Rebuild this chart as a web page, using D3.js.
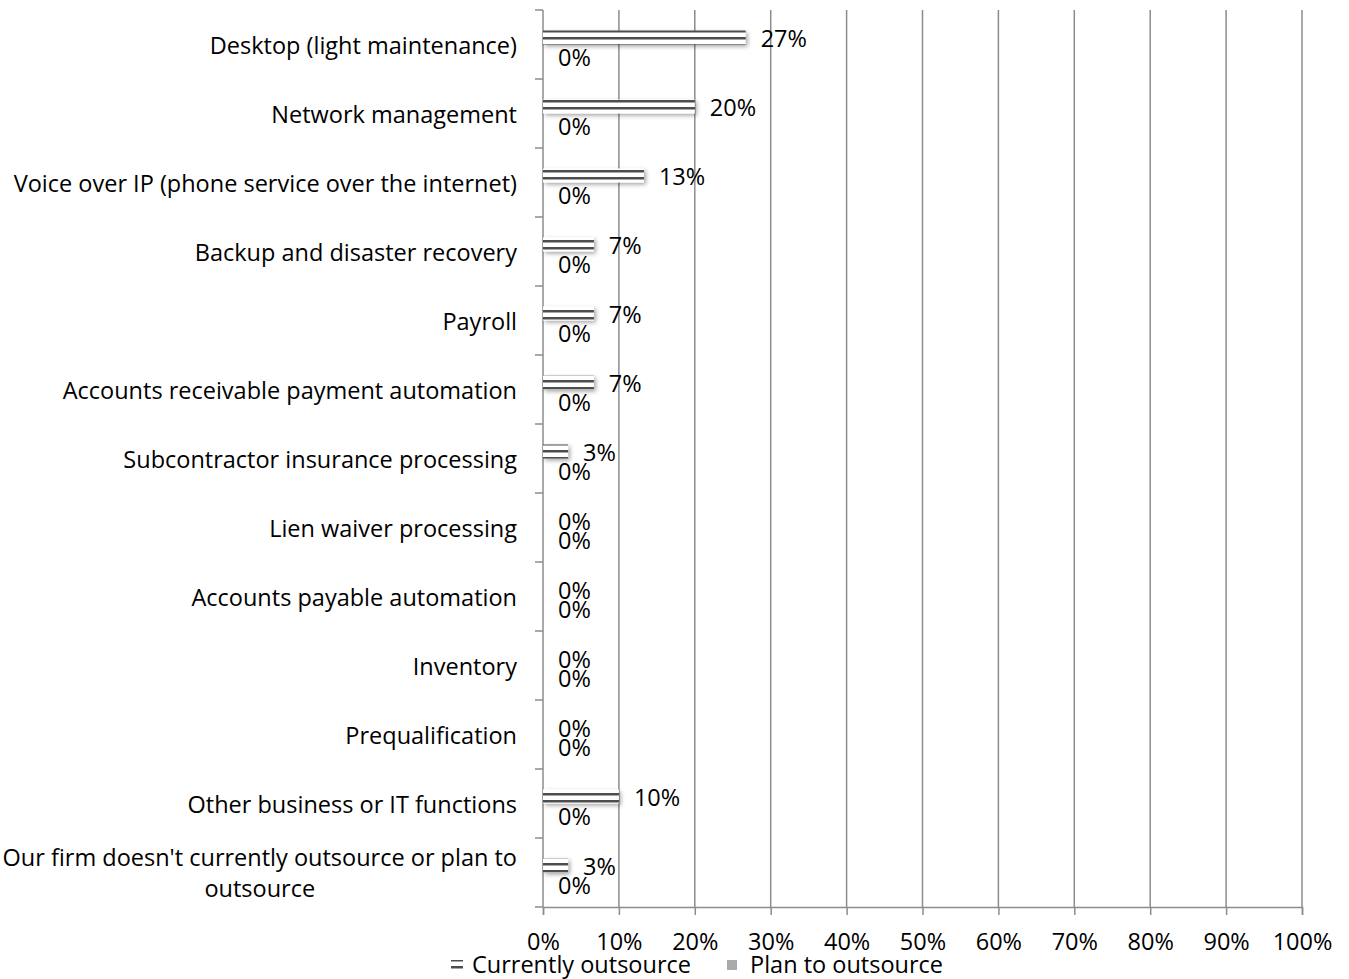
<!DOCTYPE html>
<html>
<head>
<meta charset="utf-8">
<script src="https://cdn.jsdelivr.net/npm/d3@7"></script>
<style>
  body { margin: 0; background: #fff; }
  text { font-family: "Open Sans", sans-serif; fill: #000; }
</style>
</head>
<body>
<svg id="chart" width="1349" height="979"></svg>
<script>
var categories = [
    "Desktop (light maintenance)",
    "Network management",
    "Voice over IP (phone service over the internet)",
    "Backup and disaster recovery",
    "Payroll",
    "Accounts receivable payment automation",
    "Subcontractor insurance processing",
    "Lien waiver processing",
    "Accounts payable automation",
    "Inventory",
    "Prequalification",
    "Other business or IT functions",
    "Our firm doesn't currently outsource or plan to outsource"
];
var currently = [26.7, 20, 13.3, 6.7, 6.7, 6.7, 3.3, 0, 0, 0, 0, 10, 3.3];
var planned = [0, 0, 0, 0, 0, 0, 0, 0, 0, 0, 0, 0, 0];
var xTicks = [0, 10, 20, 30, 40, 50, 60, 70, 80, 90, 100];
var seriesNames = ["Currently outsource", "Plan to outsource"];

var FS = 23.5;
var svg = d3.select("#chart"),
    MARGINS = { top: 10, right: 47, bottom: 72, left: 543 },
    WIDTH = 1349,
    HEIGHT = 979;

var xScale = d3.scaleLinear().domain([0, 100]).range([MARGINS.left, WIDTH - MARGINS.right]);
var yScale = d3.scaleBand().domain(categories).range([MARGINS.top, HEIGHT - MARGINS.bottom]);
var barH = 14;

var defs = svg.append("defs");
var pat = defs.append("pattern")
    .attr("id", "lines")
    .attr("patternUnits", "userSpaceOnUse")
    .attr("width", 8).attr("height", 7);
pat.append("rect").attr("width", 8).attr("height", 7).attr("fill", "#fff");
pat.append("rect").attr("y", 2).attr("width", 8).attr("height", 2.5).attr("fill", "#4d4d4d");

var f = defs.append("filter").attr("id", "shadow")
    .attr("x", "-20%").attr("y", "-50%").attr("width", "150%").attr("height", "250%");
f.append("feDropShadow").attr("dx", 2).attr("dy", 2).attr("stdDeviation", 2)
    .attr("flood-color", "#000").attr("flood-opacity", 0.35);

// grid
svg.append("g").selectAll("line").data(xTicks.slice(1)).enter().append("line")
    .attr("x1", function (d) { return xScale(d); })
    .attr("x2", function (d) { return xScale(d); })
    .attr("y1", MARGINS.top).attr("y2", HEIGHT - MARGINS.bottom)
    .attr("stroke", "#8c8c8c").attr("stroke-width", 1.5);

// axes
var xAxis = d3.axisBottom(xScale).tickValues(xTicks)
    .tickFormat(function (d) { return d + "%"; }).tickSize(8).tickPadding(18);
var gx = svg.append("g")
    .attr("transform", "translate(0," + (HEIGHT - MARGINS.bottom) + ")")
    .call(xAxis);
gx.select(".domain").attr("stroke", "#8c8c8c").attr("stroke-width", 1.5);
gx.selectAll(".tick line").attr("stroke", "#8c8c8c").attr("stroke-width", 1.5);
gx.selectAll("text").style("font-size", FS + "px").style("font-family", "'Open Sans', sans-serif");

var yEdges = categories.map(function (c) { return yScale(c); }).concat([HEIGHT - MARGINS.bottom]);
var gy = svg.append("g");
gy.append("line").attr("x1", MARGINS.left).attr("x2", MARGINS.left)
    .attr("y1", MARGINS.top).attr("y2", HEIGHT - MARGINS.bottom)
    .attr("stroke", "#8c8c8c").attr("stroke-width", 1.5);
gy.selectAll(".yt").data(yEdges).enter().append("line")
    .attr("x1", MARGINS.left - 8).attr("x2", MARGINS.left)
    .attr("y1", function (d) { return d; }).attr("y2", function (d) { return d; })
    .attr("stroke", "#8c8c8c").attr("stroke-width", 1.5);

// category labels
categories.forEach(function (c, i) {
    var cy = yScale(c) + yScale.bandwidth() / 2;
    var lines = c.length > 50 ? ["Our firm doesn't currently outsource or plan to", "outsource"] : [c];
    var t = svg.append("text")
        .attr("font-size", FS)
        .attr("text-anchor", "end")
        .attr("dominant-baseline", "central");
    if (lines.length === 1) {
        t.attr("x", 517).attr("y", cy).text(c);
    } else {
        t.attr("x", 517).attr("y", cy - 16).text(lines[0]);
        var w = t.node().getComputedTextLength();
        svg.append("text").attr("font-size", FS)
            .attr("text-anchor", "middle").attr("dominant-baseline", "central")
            .attr("x", 517 - w / 2).attr("y", cy + 15).text(lines[1]);
    }
});

// bars
var groups = svg.append("g").selectAll("g").data(categories).enter().append("g");
groups.append("rect")
    .attr("x", xScale(0))
    .attr("y", function (d) { return yScale(d) + yScale.bandwidth() / 2 - barH; })
    .attr("width", function (d, i) { return xScale(currently[i]) - xScale(0); })
    .attr("height", barH)
    .attr("fill", "url(#lines)")
    .attr("filter", "url(#shadow)")
    .style("display", function (d, i) { return currently[i] > 0 ? null : "none"; });
groups.append("rect")
    .attr("x", xScale(0))
    .attr("y", function (d) { return yScale(d) + yScale.bandwidth() / 2; })
    .attr("width", function (d, i) { return xScale(planned[i]) - xScale(0); })
    .attr("height", barH)
    .attr("fill", "#aaa");

// value labels
groups.append("text")
    .attr("font-size", FS)
    .attr("dominant-baseline", "central")
    .attr("x", function (d, i) { return xScale(currently[i]) + 15; })
    .attr("y", function (d) { return yScale(d) + yScale.bandwidth() / 2 - 7; })
    .text(function (d, i) { return Math.round(currently[i]) + "%"; });
groups.append("text")
    .attr("font-size", FS)
    .attr("dominant-baseline", "central")
    .attr("x", function (d, i) { return xScale(planned[i]) + 15; })
    .attr("y", function (d) { return yScale(d) + yScale.bandwidth() / 2 + 12; })
    .text(function (d, i) { return Math.round(planned[i]) + "%"; });

// legend
var lg = svg.append("g").attr("transform", "translate(0,964)");
lg.append("rect").attr("x", 451).attr("y", -4).attr("width", 12).attr("height", 10)
    .attr("fill", "url(#lines)");
lg.append("text").attr("x", 472).attr("y", 0).attr("font-size", FS)
    .attr("dominant-baseline", "central").text(seriesNames[0]);
lg.append("rect").attr("x", 727).attr("y", -4).attr("width", 10).attr("height", 10)
    .attr("fill", "#aaa");
lg.append("text").attr("x", 750).attr("y", 0).attr("font-size", FS)
    .attr("dominant-baseline", "central").text(seriesNames[1]);
</script>
</body>
</html>
